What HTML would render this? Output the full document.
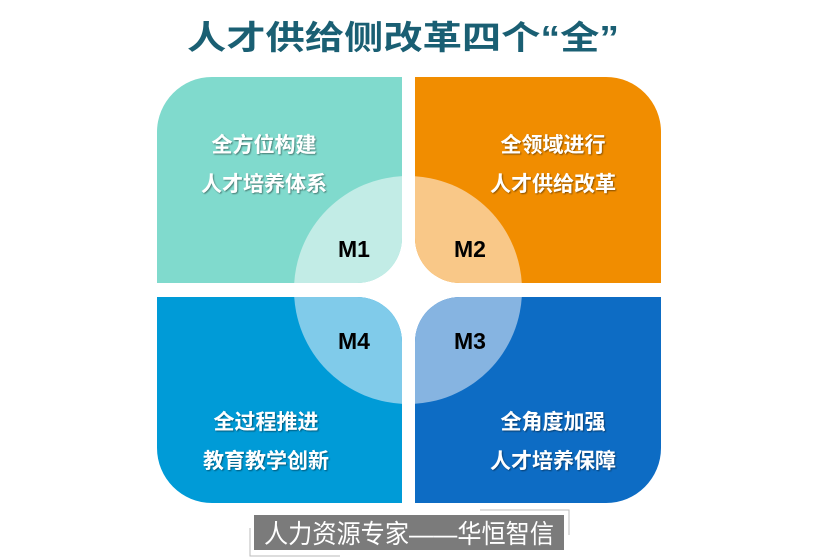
<!DOCTYPE html>
<html><head><meta charset="utf-8"><style>
html,body{margin:0;padding:0;background:#fff;}
svg{display:block;}
.cn{font-family:"Liberation Sans","Noto Sans CJK SC",sans-serif;}
</style></head><body>
<svg width="819" height="560" viewBox="0 0 819 560" xmlns="http://www.w3.org/2000/svg">
<defs>
<clipPath id="tl"><path d="M212,77 H402 V238 A45,45 0 0 1 357,283 H157 V132 A55,55 0 0 1 212,77 Z"/></clipPath>
<clipPath id="tr"><path d="M415,77 H606 A55,55 0 0 1 661,132 V283 H460 A45,45 0 0 1 415,238 Z"/></clipPath>
<clipPath id="bl"><path d="M157,297 H357 A45,45 0 0 1 402,342 V503 H212 A55,55 0 0 1 157,448 Z"/></clipPath>
<clipPath id="br"><path d="M460,297 H661 V448 A55,55 0 0 1 606,503 H415 V342 A45,45 0 0 1 460,297 Z"/></clipPath>
<filter id="sh" x="-10%" y="-30%" width="120%" height="160%"><feDropShadow dx="1" dy="1" stdDeviation="0.8" flood-color="#000" flood-opacity="0.45"/></filter>
</defs>
<text class="cn" x="187" y="49" font-size="33" font-weight="bold" fill="#1a5f73" textLength="432" lengthAdjust="spacingAndGlyphs">人才供给侧改革四个“全”</text>

<g clip-path="url(#tl)"><rect x="150" y="70" width="260" height="220" fill="#80dacd"/><circle cx="408" cy="290" r="114" fill="#c2ece6"/></g>
<g clip-path="url(#tr)"><rect x="410" y="70" width="260" height="220" fill="#f18d00"/><circle cx="408" cy="290" r="114" fill="#f9c888"/></g>
<g clip-path="url(#bl)"><rect x="150" y="290" width="260" height="220" fill="#009bd7"/><circle cx="408" cy="290" r="114" fill="#80cbea"/></g>
<g clip-path="url(#br)"><rect x="410" y="290" width="260" height="220" fill="#0d6cc4"/><circle cx="408" cy="290" r="114" fill="#86b4e1"/></g>

<g class="cn" font-size="21" font-weight="bold" fill="#fff" text-anchor="middle" filter="url(#sh)">
<text x="264" y="152">全方位构建</text>
<text x="264" y="191">人才培养体系</text>
<text x="553" y="152">全领域进行</text>
<text x="553" y="191">人才供给改革</text>
<text x="266" y="429">全过程推进</text>
<text x="266" y="468">教育教学创新</text>
<text x="553" y="429">全角度加强</text>
<text x="553" y="468">人才培养保障</text>
</g>
<g font-family="Liberation Sans,sans-serif" font-size="23" font-weight="bold" fill="#000" text-anchor="middle">
<text x="354" y="257">M1</text>
<text x="470" y="257">M2</text>
<text x="354" y="349">M4</text>
<text x="470" y="349">M3</text>
</g>

<rect x="254" y="515" width="310" height="35" fill="#7b7b7b"/>
<text class="cn" x="409" y="543" font-size="26" fill="#fff" text-anchor="middle" textLength="290" lengthAdjust="spacingAndGlyphs">人力资源专家——华恒智信</text>
<path d="M250,528 V556 H340" stroke="#bbb" stroke-width="1" fill="none"/>
<path d="M480,510 H569 V535" stroke="#bbb" stroke-width="1" fill="none"/>
</svg>
</body></html>
